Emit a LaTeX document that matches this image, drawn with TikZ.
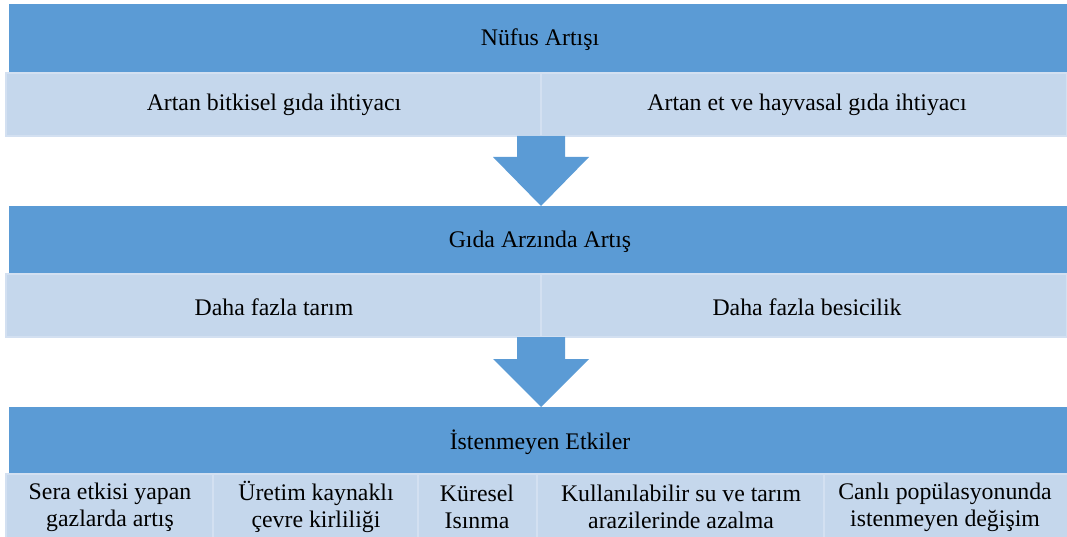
\documentclass[tikz,border=0pt]{standalone}
\usepackage{fontspec}
\setmainfont{Liberation Serif}
\newfontfamily\tnr{Liberation Serif}
\definecolor{hdr}{HTML}{5B9BD5}
\definecolor{lite}{HTML}{C5D7EC}
\definecolor{liteedge}{HTML}{D3E0F1}
\begin{document}
\begin{tikzpicture}[x=1pt,y=-1pt,
  hdrbox/.style={fill=hdr,draw=none},
  cellbox/.style={fill=lite,draw=liteedge,line width=1.5pt},
  lbl/.style={font=\tnr\fontsize{23.8}{27}\selectfont,text=black,align=center,inner sep=0pt},
  arrowshape/.style={fill=hdr,draw=none}]
\useasboundingbox (0,0) rectangle (1067,537);
% Level 1
\path[hdrbox] (9,4) rectangle (1067,73);
\node[lbl] (h1) at (540,40) {Nüfus Artışı};
\path[cellbox] (6,73) rectangle (541,136);
\path[cellbox] (541,73) rectangle (1067,136);
\node[lbl] (c11) at (274,105) {Artan bitkisel gıda ihtiyacı};
\node[lbl] (c12) at (807,105) {Artan et ve hayvasal gıda ihtiyacı};
% Arrow 1
\path[arrowshape] (517,136) -- (565,136) -- (565,157) -- (589,157) -- (541,206) -- (493,157) -- (517,157) -- cycle;
% Level 2
\path[hdrbox] (9,206) rectangle (1067,274);
\node[lbl] (h2) at (540,242) {Gıda Arzında Artış};
\path[cellbox] (6,274) rectangle (541,337);
\path[cellbox] (541,274) rectangle (1067,337);
\node[lbl] (c21) at (274,307) {Daha fazla tarım};
\node[lbl] (c22) at (807,307) {Daha fazla besicilik};
% Arrow 2
\path[arrowshape] (517,337) -- (565,337) -- (565,359) -- (589,359) -- (541,407) -- (493,359) -- (517,359) -- cycle;
% Level 3
\path[hdrbox] (9,407) rectangle (1067,474);
\node[lbl] (h3) at (540,442) {İstenmeyen Etkiler};
\path[cellbox] (6,474) rectangle (213,538);
\path[cellbox] (213,474) rectangle (418,538);
\path[cellbox] (418,474) rectangle (537,538);
\path[cellbox] (537,474) rectangle (824,538);
\path[cellbox] (824,474) rectangle (1068,538);
\node[lbl] (b1) at (110,507) {Sera etkisi yapan\\gazlarda artış};
\node[lbl] (b2) at (316,507) {Üretim kaynaklı\\çevre kirliliği};
\node[lbl] (b3) at (477,507) {Küresel\\Isınma};
\node[lbl] (b4) at (681,507) {Kullanılabilir su ve tarım\\arazilerinde azalma};
\node[lbl] (b5) at (945,507) {Canlı popülasyonunda\\istenmeyen değişim};
\end{tikzpicture}
\end{document}
